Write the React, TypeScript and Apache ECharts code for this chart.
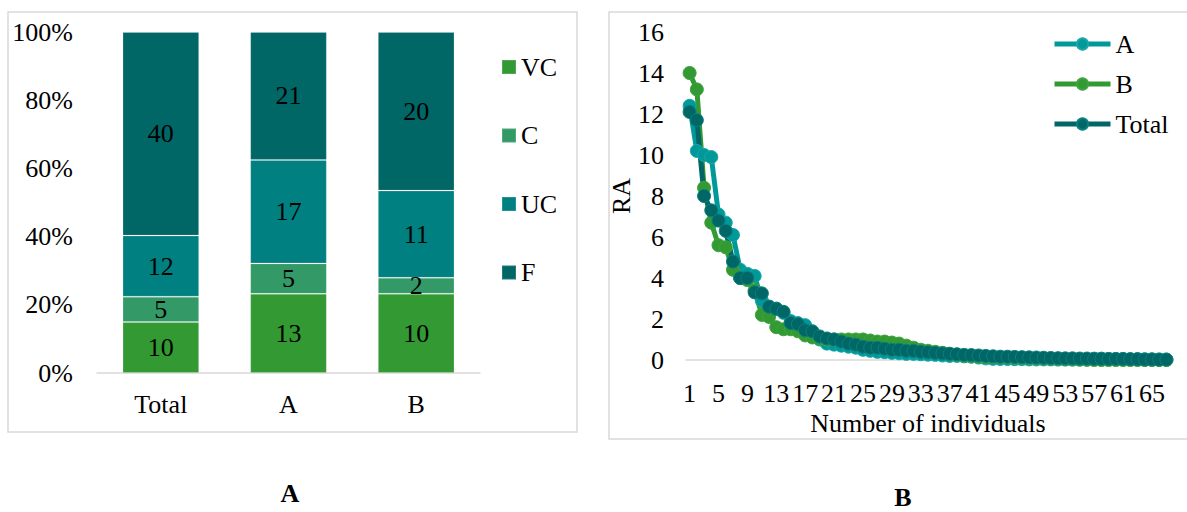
import React, { useEffect, useRef } from "react";
import * as echarts from "echarts";

// ---- Panel A: stacked percentage bars (counts) ----
const barCategories = ["Total", "A", "B"];
const vcCounts = [10, 13, 10];
const cCounts = [5, 5, 2];
const ucCounts = [12, 17, 11];
const fCounts = [40, 21, 20];
const barPercentTicks = [0, 20, 40, 60, 80, 100];

// ---- Panel B: rank abundance curves ----
const raA = [
  12.4, 10.2, 10.0, 9.9, 7.1, 6.7, 6.1, 4.4, 4.2, 4.1,
  2.9, 2.6, 2.5, 2.3, 1.9, 1.8, 1.7, 1.3, 1.0, 0.8,
  0.75, 0.7, 0.65, 0.6, 0.5, 0.45, 0.4, 0.38, 0.35, 0.33,
  0.3, 0.3, 0.28, 0.26, 0.25, 0.22, 0.2, 0.2, 0.18, 0.16,
  0.12, 0.08, 0.06, 0.05, 0.05, 0.04, 0.04, 0.03, 0.03, 0.03,
  0.03, 0.02, 0.02, 0.02, 0.02, 0.02, 0.06, 0.06, 0.05, 0.05,
  0.05, 0.04, 0.04, 0.03, 0.03, 0.02, 0.02,
];
const raB = [
  14.0, 13.2, 8.4, 6.7, 5.6, 5.5, 4.4, 4.0, 3.9, 3.4,
  2.2, 2.1, 1.6, 1.5, 1.5, 1.4, 1.2, 1.1, 1.05, 1.0,
  1.0, 1.0, 1.0, 1.0, 1.0, 0.95, 0.9, 0.9, 0.85, 0.8,
  0.7, 0.6, 0.5, 0.45, 0.4, 0.35, 0.3, 0.25, 0.2, 0.18,
  0.16, 0.15, 0.14, 0.13, 0.12, 0.11, 0.1, 0.09, 0.08, 0.07,
  0.06, 0.05, 0.04, 0.03, 0.02, 0.01, 0.0, 0.0, 0.0, 0.0,
  0.0, 0.0, 0.0, 0.0, 0.0, 0.0, 0.0,
];
const raTotal = [
  12.1, 11.7, 8.0, 7.3, 6.8, 6.3, 4.8, 4.0, 4.0, 3.3,
  3.25, 2.6, 2.5, 2.35, 1.8, 1.75, 1.45, 1.4, 1.15, 1.05,
  1.0, 0.9, 0.8, 0.75, 0.65, 0.6, 0.6, 0.55, 0.5, 0.5,
  0.45, 0.45, 0.4, 0.38, 0.35, 0.32, 0.3, 0.28, 0.25, 0.24,
  0.22, 0.2, 0.18, 0.16, 0.16, 0.15, 0.14, 0.13, 0.12, 0.11,
  0.1, 0.09, 0.08, 0.08, 0.07, 0.07, 0.06, 0.06, 0.05, 0.05,
  0.05, 0.04, 0.04, 0.03, 0.03, 0.02, 0.02,
];
const rankCategories = raTotal.map((_, i) => String(i + 1));

const FONT = "'Liberation Serif', 'Times New Roman', serif";
const AXIS_GRAY = "#d9d9d9";

export default function App() {
  const ref = useRef<HTMLDivElement>(null);

  useEffect(() => {
    if (!ref.current) return;
    const chart = echarts.init(ref.current, undefined, { renderer: "svg" });

    const totals = barCategories.map(
      (_, i) => vcCounts[i] + cCounts[i] + ucCounts[i] + fCounts[i]
    );
    const pct = (arr: number[]) =>
      arr.map((v, i) => ({ value: (v / totals[i]) * 100, count: v }));

    const barSeries = (name: string, arr: number[], color: string) => ({
      name,
      type: "bar",
      stack: "pct",
      xAxisIndex: 0,
      yAxisIndex: 0,
      barWidth: "60%",
      data: pct(arr),
      itemStyle: { color, borderColor: "rgba(255,255,255,0.15)", borderWidth: 1 },
      label: {
        show: true,
        position: "inside",
        color: "#000",
        fontFamily: FONT,
        fontSize: 26,
        formatter: (p: any) => String(p.data.count),
      },
      emphasis: { disabled: true },
    });

    const lineSeries = (name: string, arr: number[], color: string, border: string) => ({
      name,
      type: "line",
      xAxisIndex: 1,
      yAxisIndex: 1,
      data: arr,
      symbol: "circle",
      symbolSize: 13,
      showAllSymbol: true,
      lineStyle: { color, width: 5 },
      itemStyle: { color, borderColor: border, borderWidth: 1 },
      emphasis: { disabled: true },
    });

    chart.setOption({
      animation: false,
      textStyle: { fontFamily: FONT },
      grid: [
        { left: 97, top: 32, width: 383, height: 341 },
        { left: 686, top: 32, width: 484, height: 328 },
      ],
      xAxis: [
        {
          gridIndex: 0,
          type: "category",
          data: barCategories,
          axisLine: { lineStyle: { color: AXIS_GRAY, width: 1.5 } },
          axisTick: { show: false },
          axisLabel: { color: "#000", fontFamily: FONT, fontSize: 26, margin: 18 },
        },
        {
          gridIndex: 1,
          type: "category",
          data: rankCategories,
          boundaryGap: true,
          axisLine: { lineStyle: { color: AXIS_GRAY, width: 1.5 } },
          axisTick: { show: false },
          axisLabel: {
            color: "#000",
            fontFamily: FONT,
            fontSize: 26,
            margin: 20,
            interval: 3,
          },
          name: "Number of individuals",
          nameLocation: "middle",
          nameGap: 49,
          nameTextStyle: { color: "#000", fontFamily: FONT, fontSize: 26 },
        },
      ],
      yAxis: [
        {
          gridIndex: 0,
          type: "value",
          min: barPercentTicks[0],
          max: barPercentTicks[barPercentTicks.length - 1],
          interval: 20,
          axisLine: { show: false },
          axisTick: { show: false },
          splitLine: { show: false },
          axisLabel: {
            color: "#000",
            fontFamily: FONT,
            fontSize: 26,
            margin: 24,
            formatter: "{value}%",
          },
        },
        {
          gridIndex: 1,
          type: "value",
          min: 0,
          max: 16,
          interval: 2,
          axisLine: { show: false },
          axisTick: { show: false },
          splitLine: { show: false },
          axisLabel: { color: "#000", fontFamily: FONT, fontSize: 26, margin: 22 },
          name: "RA",
          nameLocation: "middle",
          nameRotate: 90,
          nameGap: 40,
          nameTextStyle: { color: "#000", fontFamily: FONT, fontSize: 26 },
        },
      ],
      legend: [
        {
          data: ["VC", "C", "UC", "F"],
          orient: "vertical",
          left: 496,
          top: 49,
          itemWidth: 14,
          itemHeight: 14,
          itemGap: 42.5,
          icon: "rect",
          textStyle: { color: "#000", fontFamily: FONT, fontSize: 26, lineHeight: 26 },
          selectedMode: false,
        },
        {
          data: ["A", "B", "Total"],
          orient: "vertical",
          left: 1047,
          top: 26,
          itemWidth: 56,
          itemHeight: 14,
          itemGap: 14,
          lineStyle: { width: 5 },
          textStyle: { color: "#000", fontFamily: FONT, fontSize: 26, lineHeight: 26 },
          selectedMode: false,
        },
      ],
      series: [
        barSeries("VC", vcCounts, "#339933"),
        barSeries("C", cCounts, "#339966"),
        barSeries("UC", ucCounts, "#008080"),
        barSeries("F", fCounts, "#006666"),
        lineSeries("A", raA, "#009999", "#1aa6a6"),
        lineSeries("B", raB, "#339933", "#3fa43f"),
        lineSeries("Total", raTotal, "#006666", "#0b8080"),
      ],
      graphic: [
        {
          type: "rect",
          shape: { x: 8, y: 12, width: 569, height: 420 },
          style: { fill: "none", stroke: AXIS_GRAY, lineWidth: 1.5 },
          silent: true,
        },
        {
          type: "rect",
          shape: { x: 609, y: 12, width: 600, height: 427 },
          style: { fill: "none", stroke: AXIS_GRAY, lineWidth: 1.5 },
          silent: true,
        },
        {
          type: "text",
          x: 290,
          y: 493,
          style: {
            text: "A",
            fill: "#000",
            font: "bold 26px " + FONT,
            align: "center",
            verticalAlign: "middle",
          },
        },
        {
          type: "text",
          x: 903,
          y: 497,
          style: {
            text: "B",
            fill: "#000",
            font: "bold 26px " + FONT,
            align: "center",
            verticalAlign: "middle",
          },
        },
      ],
    });

    return () => chart.dispose();
  }, []);

  return (
    <div
      ref={ref}
      style={{ position: "absolute", left: 0, top: 0, width: 1187, height: 512 }}
    />
  );
}
